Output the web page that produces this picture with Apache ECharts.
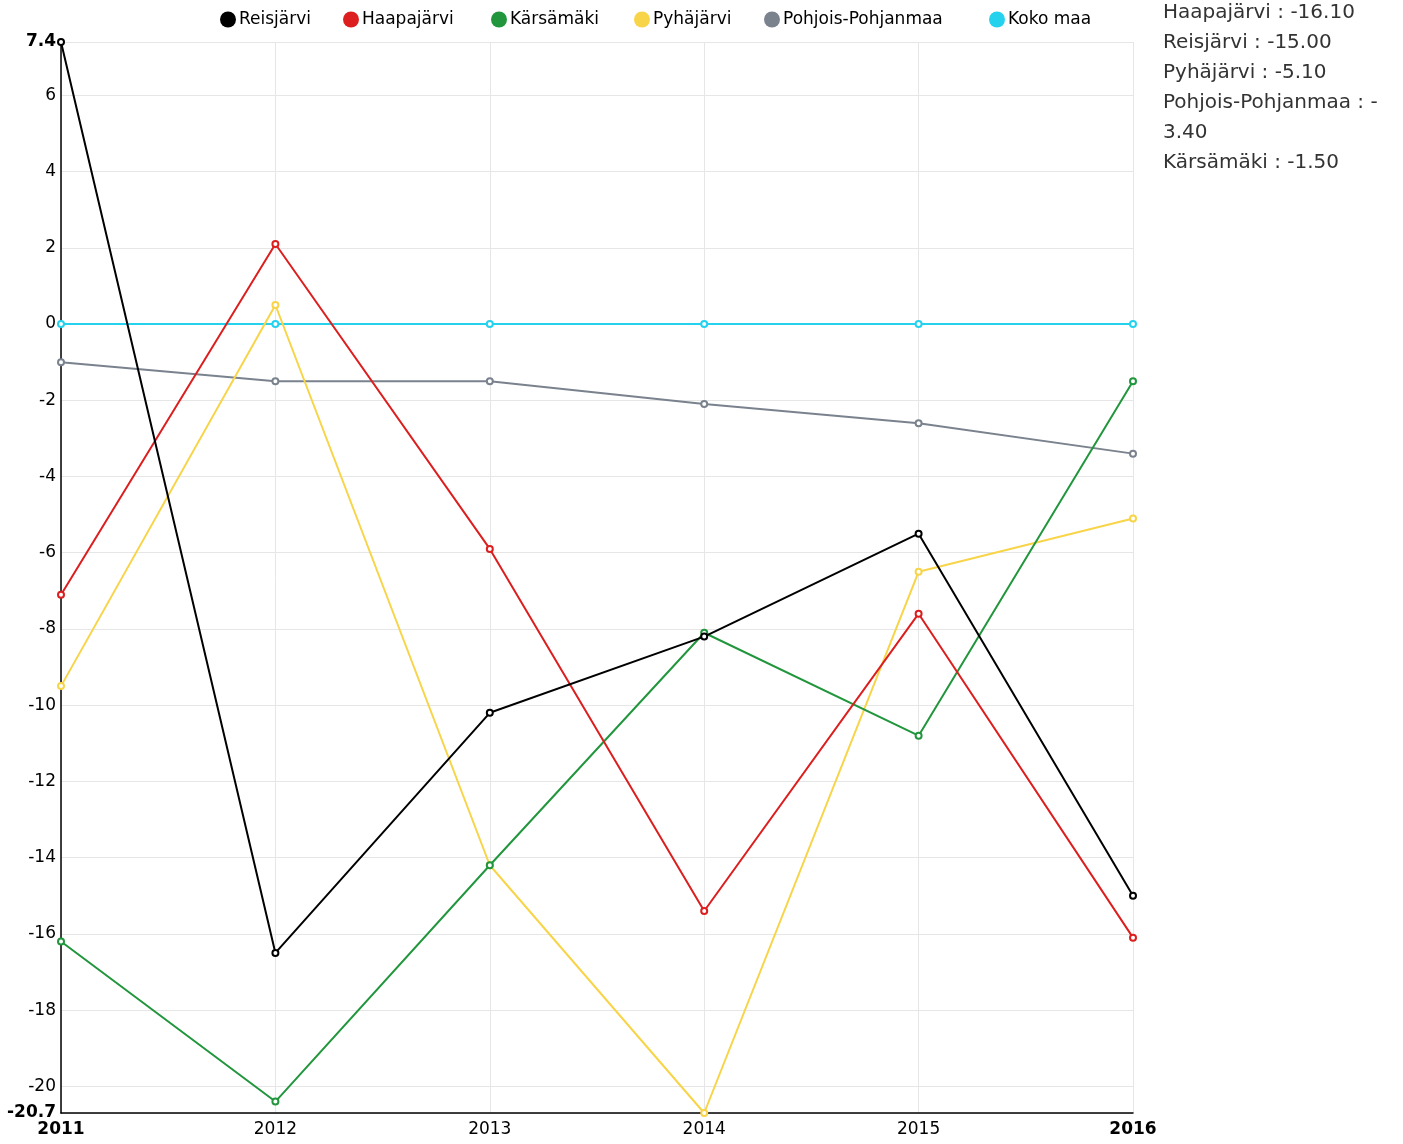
<!DOCTYPE html>
<html>
<head>
<meta charset="utf-8">
<script src="https://cdn.jsdelivr.net/npm/echarts@6/dist/echarts.min.js"></script>
<style>html,body{margin:0;padding:0;background:#fff}#c{width:1403px;height:1144px}</style>
</head>
<body>
<div id="c"></div>
<script>
var years = [2011, 2012, 2013, 2014, 2015, 2016];
var seriesNames = ['Reisjärvi', 'Haapajärvi', 'Kärsämäki', 'Pyhäjärvi', 'Pohjois-Pohjanmaa', 'Koko maa'];
var reisjarvi = [7.4, -16.5, -10.2, -8.2, -5.5, -15.0];
var haapajarvi = [-7.1, 2.1, -5.9, -15.4, -7.6, -16.1];
var karsamaki = [-16.2, -20.4, -14.2, -8.1, -10.8, -1.5];
var pyhajarvi = [-9.5, 0.5, -14.2, -20.7, -6.5, -5.1];
var pohjoisPohjanmaa = [-1.0, -1.5, -1.5, -2.1, -2.6, -3.4];
var kokoMaa = [0, 0, 0, 0, 0, 0];
var colors = ['#000000', '#dc1e1e', '#21963c', '#f8d448', '#7a828e', '#24d2ee'];
var yMin = -20.7, yMax = 7.4;

var allValues = [reisjarvi, haapajarvi, karsamaki, pyhajarvi, pohjoisPohjanmaa, kokoMaa];

var series = seriesNames.map(function (n, i) {
  return {
    name: n, type: 'line',
    data: years.map(function (y, j) { return [y, allValues[i][j]]; }),
    symbol: 'emptyCircle', symbolSize: 6,
    lineStyle: { width: 2, color: colors[i] },
    itemStyle: { color: colors[i], borderWidth: 1.5 },
    z: 10 - i
  };
});

// side panel: last-year values sorted ascending (top 5)
var last = seriesNames.map(function (n, i) { return { n: n, v: allValues[i][years.length - 1] }; });
last.sort(function (a, b) { return a.v - b.v; });
var lines = [];
last.slice(0, 5).forEach(function (d) {
  var s = d.n + ' : ' + d.v.toFixed(2);
  while (s.length > 21) { lines.push(s.slice(0, 21)); s = s.slice(21); }
  lines.push(s);
});

var legendLefts = [220, 343, 491, 634, 764, 989];
var legends = seriesNames.map(function (n, i) {
  return {
    top: 11, left: legendLefts[i], padding: 0,
    icon: 'circle', itemWidth: 16, itemHeight: 16,
    textStyle: { fontFamily: 'DejaVu Sans', fontSize: 17, color: '#000', padding: [0, 0, 0, -2] },
    data: [n]
  };
});

var chart = echarts.init(document.getElementById('c'));
chart.setOption({
  animation: false,
  color: colors,
  legend: legends,
  grid: { left: 61, right: 270, top: 42, bottom: 31 },
  xAxis: {
    type: 'value', min: 2011, max: 2016, interval: 1,
    axisLine: { onZero: false, lineStyle: { color: '#000', width: 1.5 } },
    axisTick: { show: false },
    splitLine: { show: true, lineStyle: { color: '#e6e6e6' } },
    axisLabel: {
      fontFamily: 'DejaVu Sans', fontSize: 17, color: '#000', margin: 8,
      formatter: function (v) {
        return (v === 2011 || v === 2016) ? '{b|' + v + '}' : String(v);
      },
      rich: { b: { fontWeight: 'bold', fontSize: 17, fontFamily: 'DejaVu Sans', color: '#000' } }
    }
  },
  yAxis: {
    type: 'value', min: yMin, max: yMax, splitNumber: 14,
    axisLine: { show: true, onZero: false, lineStyle: { color: '#000', width: 1.5 } },
    axisTick: { show: false },
    splitLine: { show: true, lineStyle: { color: '#e6e6e6' } },
    axisLabel: {
      fontFamily: 'DejaVu Sans', fontSize: 17, color: '#000', margin: 5,
      showMinLabel: true, showMaxLabel: true,
      formatter: function (v) {
        var r = Math.round(v * 10) / 10;
        return (Math.abs(r - yMin) < 1e-6 || Math.abs(r - yMax) < 1e-6) ? '{b|' + r + '}' : String(r);
      },
      rich: { b: { fontWeight: 'bold', fontSize: 17, fontFamily: 'DejaVu Sans', color: '#000' } }
    }
  },
  graphic: [{
    type: 'text', left: 1163, top: -2,
    style: {
      text: lines.join('\n'),
      fontFamily: 'DejaVu Sans', fontSize: 20, lineHeight: 30, fill: '#333'
    }
  }],
  series: series
});
</script>
</body>
</html>
